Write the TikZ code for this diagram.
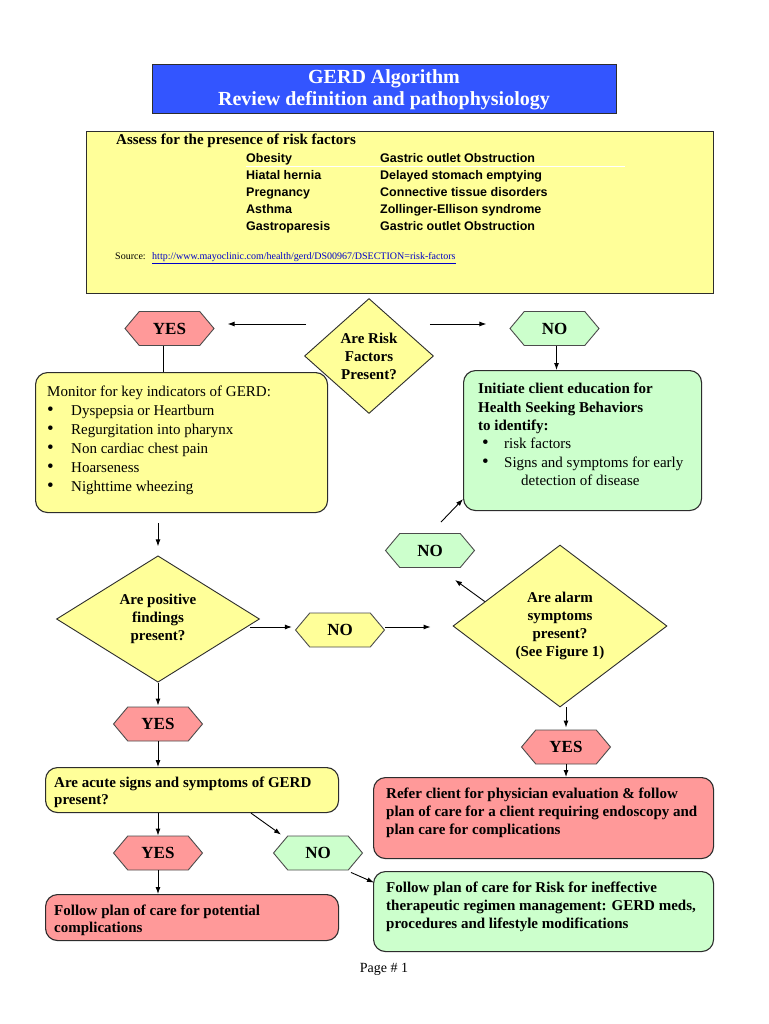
\documentclass[tikz,border=0pt]{standalone}
\usepackage{fontspec}
\setmainfont{Liberation Serif}
\newfontfamily\arialf{Liberation Sans}
\usetikzlibrary{shapes.geometric,shapes.symbols,arrows.meta,calc}
\definecolor{titleblue}{RGB}{51,85,255}
\definecolor{boxyellow}{RGB}{255,255,153}
\definecolor{boxred}{RGB}{255,153,153}
\definecolor{boxgreen}{RGB}{204,255,204}
\definecolor{linkblue}{RGB}{0,0,200}
\definecolor{edgec}{RGB}{45,45,45}
\newcommand{\bigbul}{{\fontsize{19}{19}\selectfont\textbullet}}
\begin{document}
\begin{tikzpicture}[x=1pt,y=-1pt,
  box/.style={draw=edgec, line width=1.1pt, rounded corners=12pt, anchor=north west, inner sep=0pt},
  hexa/.style={shape=signal, signal to=west and east, signal pointer angle=100, draw=edgec!85, line width=0.9pt, minimum width=89pt, minimum height=34pt, inner sep=0pt, font=\fontsize{17}{20}\selectfont\bfseries},
  dia/.style={diamond, draw=edgec, line width=0.9pt, fill=boxyellow, inner sep=0pt, align=center, font=\fontsize{15}{18}\selectfont\bfseries},
  txt/.style={inner sep=0pt, align=left, anchor=north west},
  btxt/.style={txt, font=\fontsize{15}{18}\selectfont\bfseries},
  arr/.style={-{Latex[length=7pt,width=5pt]}, line width=0.9pt},
  ln/.style={line width=0.9pt}]
\useasboundingbox[fill=white] (0,0) rectangle (768,1024);

% title
\node[draw=edgec, line width=1pt, fill=titleblue, minimum width=464pt, minimum height=49pt, inner sep=0pt, align=center, text=white, font=\fontsize{20}{22}\selectfont\bfseries] (title) at (384,89.5) {GERD Algorithm\\Review definition and pathophysiology};

% risk factors
\node[draw=edgec, line width=1.1pt, fill=boxyellow, minimum width=627pt, minimum height=162pt, anchor=north west, inner sep=0pt] (risk) at (86,131) {};
\node[txt, anchor=west, font=\fontsize{15}{18}\selectfont\bfseries] (assess) at (116,141) {Assess for the presence of risk factors};
\draw[white, line width=0.8pt] (246,166.5) -- (625,166.5);
\node[txt, font=\arialf\bfseries\fontsize{12.5}{17}\selectfont] (colA) at (246,153) {Obesity\\Hiatal hernia\\Pregnancy\\Asthma\\Gastroparesis};
\node[txt, font=\arialf\bfseries\fontsize{12.5}{17}\selectfont] (colB) at (380,153) {Gastric outlet Obstruction\\Delayed stomach emptying\\Connective tissue disorders\\Zollinger-Ellison syndrome\\Gastric outlet Obstruction};
\node[txt, anchor=west, font=\fontsize{10}{12}\selectfont] (src) at (115,258) {Source:\hspace{6.5pt}\textcolor{linkblue}{\underline{http://www.mayoclinic.com/health/gerd/DS00967/DSECTION=risk-factors}}};

% first decision
\node[dia, minimum width=129pt, minimum height=115pt] (rf) at (369,356) {Are Risk\\Factors\\Present?};
\node[hexa, fill=boxred] (yes1) at (169.5,328.5) {YES};
\node[hexa, fill=boxgreen] (no1) at (554.5,328.5) {NO};
\draw[arr] ($(rf.west)+(2,-32)$) -- ($(yes1.east)+(13,-4.5)$);
\draw[arr] ($(rf.east)+(-4,-32)$) -- ($(no1.west)+(-23,-4.5)$);

% monitor box
\node[box, fill=boxyellow, minimum width=292pt, minimum height=140pt] (mon) at (35,372) {};
\node[txt, font=\fontsize{15}{19}\selectfont] (montxt) at (47,385.5) {Monitor for key indicators of GERD:\\
\makebox[24pt][l]{\bigbul}Dyspepsia or Heartburn\\
\makebox[24pt][l]{\bigbul}Regurgitation into pharynx\\
\makebox[24pt][l]{\bigbul}Non cardiac chest pain\\
\makebox[24pt][l]{\bigbul}Hoarseness\\
\makebox[24pt][l]{\bigbul}Nighttime wheezing};
\draw[ln] ([xshift=-6.5pt]yes1.south) -- ([xshift=-6.5pt]yes1.south |- mon.north);

% education box
\node[box, fill=boxgreen, minimum width=238pt, minimum height=140pt] (edu) at (463,370) {};
\node[txt, font=\fontsize{15}{18.4}\selectfont] (edutxt) at (478,383) {\textbf{Initiate client education for}\\
\textbf{Health Seeking Behaviors}\\
\textbf{to identify:}\\
\hspace*{4pt}\makebox[22pt][l]{\bigbul}risk factors\\
\hspace*{4pt}\makebox[22pt][l]{\bigbul}Signs and symptoms for early\\
\hspace*{43pt}detection of disease};
\draw[arr] ([xshift=2pt]no1.south) -- ([xshift=2pt]no1.south |- edu.north);

% positive findings
\node[dia, minimum width=203pt, minimum height=123pt] (pf) at (158,619) {Are positive\\findings\\present?};
\draw[arr] ($(mon.south -| pf.north)+(0,10)$) -- ($(pf.north)+(0,-9)$);
\node[hexa, fill=boxyellow] (no2) at (340,630) {NO};
\draw[arr] ($(pf.east)+(-10,8)$) -- ($(no2.west)+(-3,-3)$);

% alarm symptoms
\node[dia, minimum width=214pt, minimum height=162pt] (al) at (560,626) {Are alarm\\symptoms\\present?\\(See Figure 1)};
\draw[arr] ($(no2.east)+(0,-3)$) -- ($(al.west)+(-22,1)$);
\node[hexa, fill=boxgreen] (no3) at (430,550.5) {NO};
\draw[arr] ($(al.west)!0.3!(al.north)$) -- ($(no3.south)+(25,12)$);
\draw[arr] ($(no3.north)+(11,-11)$) -- ($(edu.south west)+(0,-12)$);

\node[hexa, fill=boxred] (yes3) at (566,747) {YES};
\draw[arr] (al.south -| yes3.north) -- ($(yes3.north)+(0,-2)$);
\node[box, fill=boxred, minimum width=340pt, minimum height=81pt] (ref) at (373,777) {};
\draw[arr] (yes3.south) -- (yes3.south |- ref.north);
\node[btxt] (reftxt) at (386,788) {Refer client for physician evaluation \& follow\\plan of care for a client requiring endoscopy and\\plan care for complications};

% left lower branch
\node[hexa, fill=boxred] (yes2) at (158,724) {YES};
\draw[arr] (pf.south) -- ($(yes2.north)+(0,-1)$);
\node[box, fill=boxyellow, minimum width=293pt, minimum height=45pt] (acute) at (45,767) {};
\draw[arr] (yes2.south) -- (yes2.south |- acute.north);
\node[txt, font=\fontsize{15}{17}\selectfont\bfseries] (acutetxt) at (54,777) {Are acute signs and symptoms of GERD\\present?};
\node[hexa, fill=boxred] (yes4) at (158,853) {YES};
\draw[arr] (acute.south -| yes4.north) -- (yes4.north);
\node[box, fill=boxred, minimum width=293pt, minimum height=46pt] (comp) at (45,894) {};
\draw[arr] (yes4.south) -- (yes4.south |- comp.north);
\node[txt, font=\fontsize{15}{17}\selectfont\bfseries] (comptxt) at (54,905) {Follow plan of care for potential\\complications};

\node[hexa, fill=boxgreen] (no4) at (318,853) {NO};
\draw[arr] ($(acute.south west)+(206,0)$) -- ($(no4.north)+(-37,-1)$);
\node[box, fill=boxgreen, minimum width=340pt, minimum height=80pt] (fin) at (373,871) {};
\draw[arr] ($(no4.south)+(33,2)$) -- ($(fin.west)+(1,-29)$);
\node[btxt] (fintxt) at (386,882) {Follow plan of care for Risk for ineffective\\therapeutic regimen management: GERD meds,\\procedures and lifestyle modifications};

\node[inner sep=0pt, font=\fontsize{14}{16}\selectfont] (page) at (384,969) {Page \# 1};
\end{tikzpicture}
\end{document}
